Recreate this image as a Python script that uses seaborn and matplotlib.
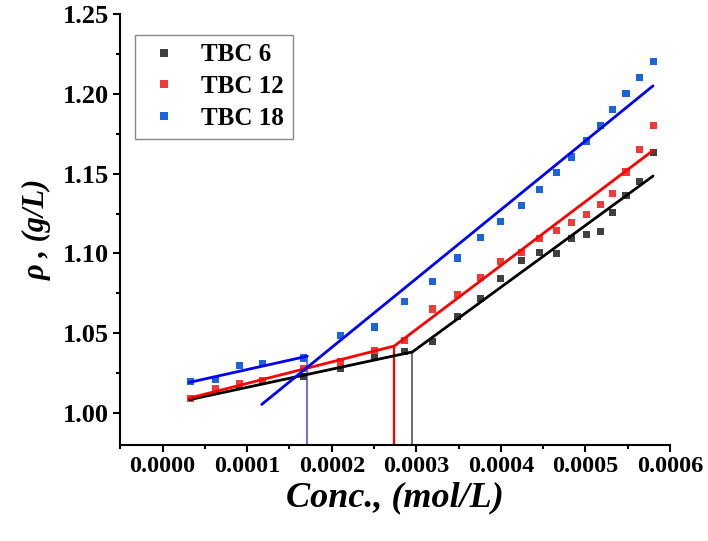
import numpy as np
import pandas as pd
import matplotlib
matplotlib.use("Agg")
import matplotlib.pyplot as plt
import seaborn as sns
from matplotlib.ticker import MultipleLocator, FormatStrFormatter

# -----------------------------
# Data
# -----------------------------
conc = [3.31e-5, 6.27e-5, 9.07e-5, 1.179e-4, 1.664e-4, 2.107e-4, 2.504e-4,
        2.859e-4, 3.191e-4, 3.486e-4, 3.755e-4, 4.00e-4, 4.24e-4, 4.457e-4,
        4.654e-4, 4.835e-4, 5.015e-4, 5.18e-4, 5.325e-4, 5.48e-4, 5.64e-4,
        5.80e-4]
tbc6 = [1.009, 1.0135, 1.017, 1.0195, 1.0227, 1.028, 1.0348, 1.0388, 1.045,
        1.0606, 1.0717, 1.0844, 1.0956, 1.1004, 1.0998, 1.1092, 1.1119,
        1.1139, 1.1258, 1.136, 1.145, 1.163]
tbc12 = [1.0092, 1.0154, 1.0186, 1.0206, 1.028, 1.032, 1.0394, 1.0452,
         1.0652, 1.0744, 1.085, 1.0948, 1.1006, 1.1094, 1.1145, 1.1196,
         1.1246, 1.1306, 1.1377, 1.151, 1.165, 1.18]
tbc18 = [1.0196, 1.0213, 1.0296, 1.0311, 1.0345, 1.0483, 1.0539, 1.0696,
         1.0825, 1.0971, 1.1102, 1.1202, 1.1302, 1.1402, 1.1504, 1.1604,
         1.1704, 1.18, 1.1904, 1.20, 1.21, 1.22]
series_names = ['TBC 6', 'TBC 12', 'TBC 18']

# fitted segments (break points)
fit6_x, fit6_y = [3.2e-5, 2.954e-4, 5.80e-4], [1.0084, 1.0383, 1.1485]
fit12_x, fit12_y = [3.2e-5, 2.74e-4, 5.80e-4], [1.0094, 1.042, 1.1645]
fit18a_x, fit18a_y = [3.15e-5, 1.71e-4], [1.0192, 1.0356]
fit18b_x, fit18b_y = [1.172e-4, 5.80e-4], [1.0054, 1.2050]
cmc = [2.954e-4, 2.74e-4, 1.71e-4]
cmc_top = [1.0383, 1.042, 1.0356]

point_colors = ['#404040', '#f03a3a', '#1a64dc']
line_colors = ['#000000', '#ff0000', '#0000ff']

# -----------------------------
# Build long table
# -----------------------------
df = pd.DataFrame({
    'conc': conc * 3,
    'rho': tbc6 + tbc12 + tbc18,
    'series': np.repeat(series_names, len(conc)),
})

sns.set_theme(style="ticks")
plt.rcParams['font.family'] = ['Liberation Serif', 'DejaVu Serif']
plt.rcParams['font.weight'] = 'bold'
plt.rcParams['text.color'] = 'black'
plt.rcParams['axes.labelcolor'] = 'black'

fig = plt.figure(figsize=(7.08, 5.41), dpi=100)
ax = fig.add_axes([0.170, 0.1775, 0.7763, 0.7967])

sns.scatterplot(data=df, x='conc', y='rho', hue='series', palette=point_colors,
                marker='s', s=26, linewidth=0, ax=ax, zorder=3)

# fit lines
for fx, fy, c in [(fit6_x, fit6_y, line_colors[0]), (fit12_x, fit12_y, line_colors[1]),
                  (fit18a_x, fit18a_y, line_colors[2]), (fit18b_x, fit18b_y, line_colors[2])]:
    sns.lineplot(x=fx, y=fy, color=c, lw=2.0, estimator=None, sort=False,
                 legend=False, ax=ax, zorder=4)

# CMC drop lines
vcols = ['#555555', '#ff0000', '#5050ff']
vwidths = [1.2, 1.6, 1.2]
for xv, yt, c, w in zip(cmc, cmc_top, vcols, vwidths):
    ax.plot([xv, xv], [0.98, yt], color=c, lw=w, zorder=2)

# -----------------------------
# Axes styling
# -----------------------------
ax.set_xlim(-0.00005, 0.0006)
ax.set_ylim(0.98, 1.25)
ax.xaxis.set_major_locator(MultipleLocator(0.0001))
ax.xaxis.set_minor_locator(MultipleLocator(0.00005))
ax.yaxis.set_major_locator(MultipleLocator(0.05))
ax.yaxis.set_minor_locator(MultipleLocator(0.025))
ax.xaxis.set_major_formatter(FormatStrFormatter('%.4f'))
ax.yaxis.set_major_formatter(FormatStrFormatter('%.2f'))
ax.set_xticks([0, 0.0001, 0.0002, 0.0003, 0.0004, 0.0005, 0.0006])

sns.despine(ax=ax)
for sp in ['left', 'bottom']:
    ax.spines[sp].set_linewidth(1.5)
    ax.spines[sp].set_color('black')
ax.tick_params(which='major', direction='out', length=5, width=1.5, colors='black',
               labelsize=17.5, pad=3)
ax.tick_params(axis='y', which='major', labelsize=19)
ax.tick_params(which='minor', direction='out', length=3, width=1.5, colors='black')
for lab in ax.get_xticklabels() + ax.get_yticklabels():
    lab.set_fontweight('bold')

ax.set_xlabel('Conc., (mol/L)', fontsize=26, fontweight='bold', fontstyle='italic',
              labelpad=3)
ax.set_ylabel('ρ , (g/L)', fontsize=22, fontweight='bold', fontstyle='italic',
              labelpad=8)

leg = ax.legend(loc='upper left', bbox_to_anchor=(0.027, 0.952), borderaxespad=0,
                frameon=True, fancybox=False, edgecolor='#888888', framealpha=1,
                prop={'size': 18, 'weight': 'bold'}, handletextpad=0.7,
                labelspacing=0.35, borderpad=0.35, markerscale=1.0,
                handlelength=1.6)
leg.get_frame().set_linewidth(1.0)

fig.savefig('out.png', dpi=100)
